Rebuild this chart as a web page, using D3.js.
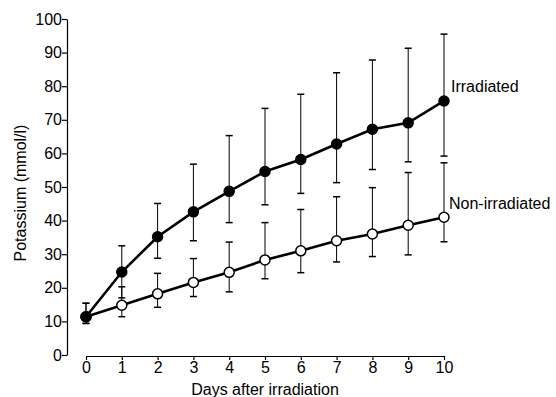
<!DOCTYPE html>
<html><head><meta charset="utf-8">
<script src="https://cdn.jsdelivr.net/npm/d3@7"></script>
<style>body{margin:0;background:#fff;} text{font-family:"Liberation Sans",Arial,sans-serif;}</style>
</head><body><svg id="c" width="556" height="397"></svg>
<script>
const days = [0,1,2,3,4,5,6,7,8,9,10];
const irradiated = [11.4,24.7,35.2,42.6,48.7,54.6,58.2,62.8,67.2,69.1,75.6];
const irradiatedTop = [15.4,32.5,45.1,56.8,65.3,73.4,77.6,84.0,87.8,91.3,95.5];
const irradiatedBottom = [9.4,17.0,28.8,34.0,39.4,44.7,48.1,51.3,55.2,57.5,59.2];
const nonIrradiated = [11.4,14.8,18.2,21.6,24.6,28.3,31.0,34.0,36.0,38.6,41.0];
const nonIrradiatedTop = [15.4,20.3,24.3,28.7,33.6,39.4,43.3,47.1,49.8,54.3,57.2];
const nonIrradiatedBottom = [9.4,11.4,14.2,17.4,18.8,22.7,24.5,27.7,29.3,29.8,33.7];
const yTicks = [0,10,20,30,40,50,60,70,80,90,100];
const xTicks = [0,1,2,3,4,5,6,7,8,9,10];
const labels = ["Irradiated","Non-irradiated"];

const svg = d3.select("#c");
const x = d3.scaleLinear().domain([0,10]).range([86,444]);
const y = d3.scaleLinear().domain([0,100]).range([355,19]);
const fs = 16;

const ya = svg.append("g").attr("transform","translate(67,0)")
  .call(d3.axisLeft(y).tickValues(yTicks).tickSize(5).tickSizeOuter(0));
ya.selectAll("text").attr("font-size",fs).attr("fill","#000").attr("font-family","Liberation Sans, Arial, sans-serif").attr("x",-5);
ya.selectAll("line,path").attr("stroke","#000").attr("stroke-width",1.2);

const xa = svg.append("g").attr("transform","translate(0,356)")
  .call(d3.axisBottom(x).tickValues(xTicks).tickSize(4).tickSizeOuter(0));
xa.selectAll("text").attr("font-size",fs).attr("fill","#000").attr("font-family","Liberation Sans, Arial, sans-serif").attr("y",6);
xa.selectAll("line,path").attr("stroke","#000").attr("stroke-width",1.2);

svg.append("text").attr("x",(x(0)+x(10))/2).attr("y",395).attr("text-anchor","middle")
  .attr("font-size",fs).text("Days after irradiation");
svg.append("text").attr("transform","translate(26,193) rotate(-90)")
  .attr("text-anchor","middle").attr("font-size",fs).text("Potassium (mmol/l)");

function series(vals, tops, bots, filled){
  const g = svg.append("g");
  days.forEach((d,i)=>{
    const cx = x(d);
    g.append("line").attr("x1",cx).attr("x2",cx).attr("y1",y(tops[i])).attr("y2",y(bots[i])).attr("stroke","#000").attr("stroke-width",1);
    [tops[i],bots[i]].forEach(v=>g.append("line").attr("x1",cx-3.5).attr("x2",cx+3.5).attr("y1",y(v)).attr("y2",y(v)).attr("stroke","#000").attr("stroke-width",1.5));
  });
  g.append("path").datum(vals).attr("fill","none").attr("stroke","#000").attr("stroke-width",2.6)
    .attr("d", d3.line().x((v,i)=>x(days[i])).y(v=>y(v)));
  g.selectAll("circle").data(vals).join("circle").attr("cx",(v,i)=>x(days[i])).attr("cy",v=>y(v))
    .attr("r",5).attr("fill",filled?"#000":"#fff").attr("stroke","#000").attr("stroke-width",1.5);
}
series(nonIrradiated, nonIrradiatedTop, nonIrradiatedBottom, false);
series(irradiated, irradiatedTop, irradiatedBottom, true);

svg.append("text").attr("x",x(10)+7).attr("y",y(irradiated[10])-9).attr("font-size",fs).text(labels[0]);
svg.append("text").attr("x",x(10)+5).attr("y",y(nonIrradiated[10])-8).attr("font-size",fs).text(labels[1]);
</script></body></html>
